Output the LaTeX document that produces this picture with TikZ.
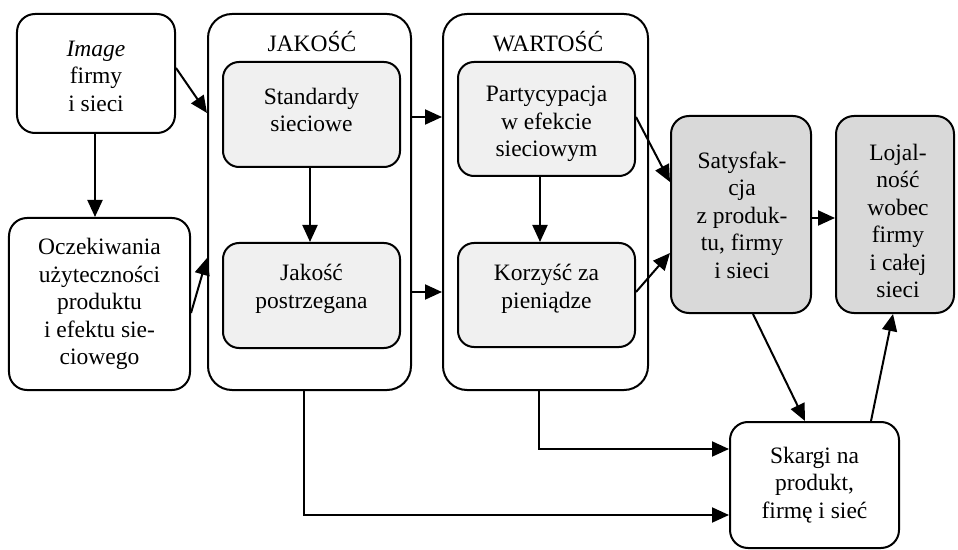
\documentclass[tikz,border=0pt]{standalone}
\usepackage{fontspec}
\setmainfont{Liberation Serif}
\usetikzlibrary{arrows.meta}
\definecolor{lightbox}{HTML}{F0F0F0}
\definecolor{darkbox}{HTML}{D9D9D9}
\tikzset{
  every node/.style={font=\fontsize{23.5bp}{27.5bp}\selectfont, inner sep=0pt, align=center},
  box/.style={draw, line width=2bp, rounded corners=18bp},
  outerbox/.style={box, rounded corners=24bp},
  lbox/.style={box, fill=lightbox, rounded corners=16bp},
  dbox/.style={box, fill=darkbox},
  arr/.style={line width=2bp, -{Triangle[length=17bp,width=15bp]}},
}
\begin{document}
\begin{tikzpicture}[x=1bp,y=-1bp]
\useasboundingbox (0,0) rectangle (958,550);
% outer containers
\node[outerbox, minimum width=203bp, minimum height=376bp] (jak) at (309.5,202) {};
\node[anchor=base] (jakt) at (312,52) {JAKOŚĆ};
\node[outerbox, minimum width=205bp, minimum height=376bp] (war) at (545.5,202) {};
\node[anchor=base] (wart) at (548,52) {WARTOŚĆ};
% left boxes
\node[box, minimum width=158bp, minimum height=119bp] (img) at (96,73.5) {};
\node (imgt) at (96,76) {\textit{Image}\\firmy\\i sieci};
\node[box, minimum width=181bp, minimum height=172bp] (oc) at (99.5,304) {};
\node (oct) at (99.5,304) {Oczekiwania\\użyteczności\\produktu\\i efektu sie-\\ciowego};
% inner boxes
\node[lbox, minimum width=177bp, minimum height=105bp] (std) at (311.5,114.5) {};
\node (stdt) at (311.5,110) {Standardy\\sieciowe};
\node[lbox, minimum width=177bp, minimum height=105bp] (jp) at (311.5,295.5) {};
\node (jpt) at (311.5,289) {Jakość\\postrzegana};
\node[lbox, minimum width=177bp, minimum height=114bp] (part) at (546.5,119) {};
\node (partt) at (546.5,124) {Partycypacja\\w efekcie\\sieciowym};
\node[lbox, minimum width=177bp, minimum height=104bp] (korz) at (546.5,295) {};
\node (korzt) at (546.5,289) {Korzyść za\\pieniądze};
% right boxes
\node[dbox, minimum width=140bp, minimum height=197bp] (sat) at (741,214.5) {};
\node (satt) at (742,215) {Satysfak-\\cja\\z produk-\\tu, firmy\\i sieci};
\node[dbox, minimum width=118bp, minimum height=197bp] (loj) at (895,214.5) {};
\node (lojt) at (898,221) {Lojal-\\ność\\wobec\\firmy\\i całej\\sieci};
\node[box, minimum width=169bp, minimum height=126bp] (sk) at (814.5,485) {};
\node (skt) at (814.5,485) {Skargi na\\produkt,\\firmę i sieć};
% connectors
\draw[arr] (img.east |- 0,68) -- (jak.west |- 0,113);
\draw[arr] (95,0 |- img.south) -- (95,0 |- oc.north);
\draw[arr] (oc.east |- 0,313) -- (jak.west |- 0,258);
\draw[arr] (310,0 |- std.south) -- (310,0 |- jp.north);
\draw[arr] (jak.east |- 0,117) -- (war.west |- 0,117);
\draw[arr] (jak.east |- 0,292) -- (war.west |- 0,292);
\draw[arr] (540,0 |- part.south) -- (540,0 |- korz.north);
\draw[arr] (part.east |- 0,117) -- (sat.west |- 0,182);
\draw[arr] (korz.east |- 0,292) -- (sat.west |- 0,253);
\draw[arr] (sat.east |- 0,218) -- (loj.west |- 0,218);
\draw[arr] (753,0 |- sat.south) -- (805,0 |- sk.north);
\draw[arr] (871,0 |- sk.north) -- (893,0 |- loj.south);
\draw[arr] (539,0 |- war.south) |- (sk.west |- 0,449);
\draw[arr] (304,0 |- jak.south) |- (sk.west |- 0,515);
\end{tikzpicture}
\end{document}
